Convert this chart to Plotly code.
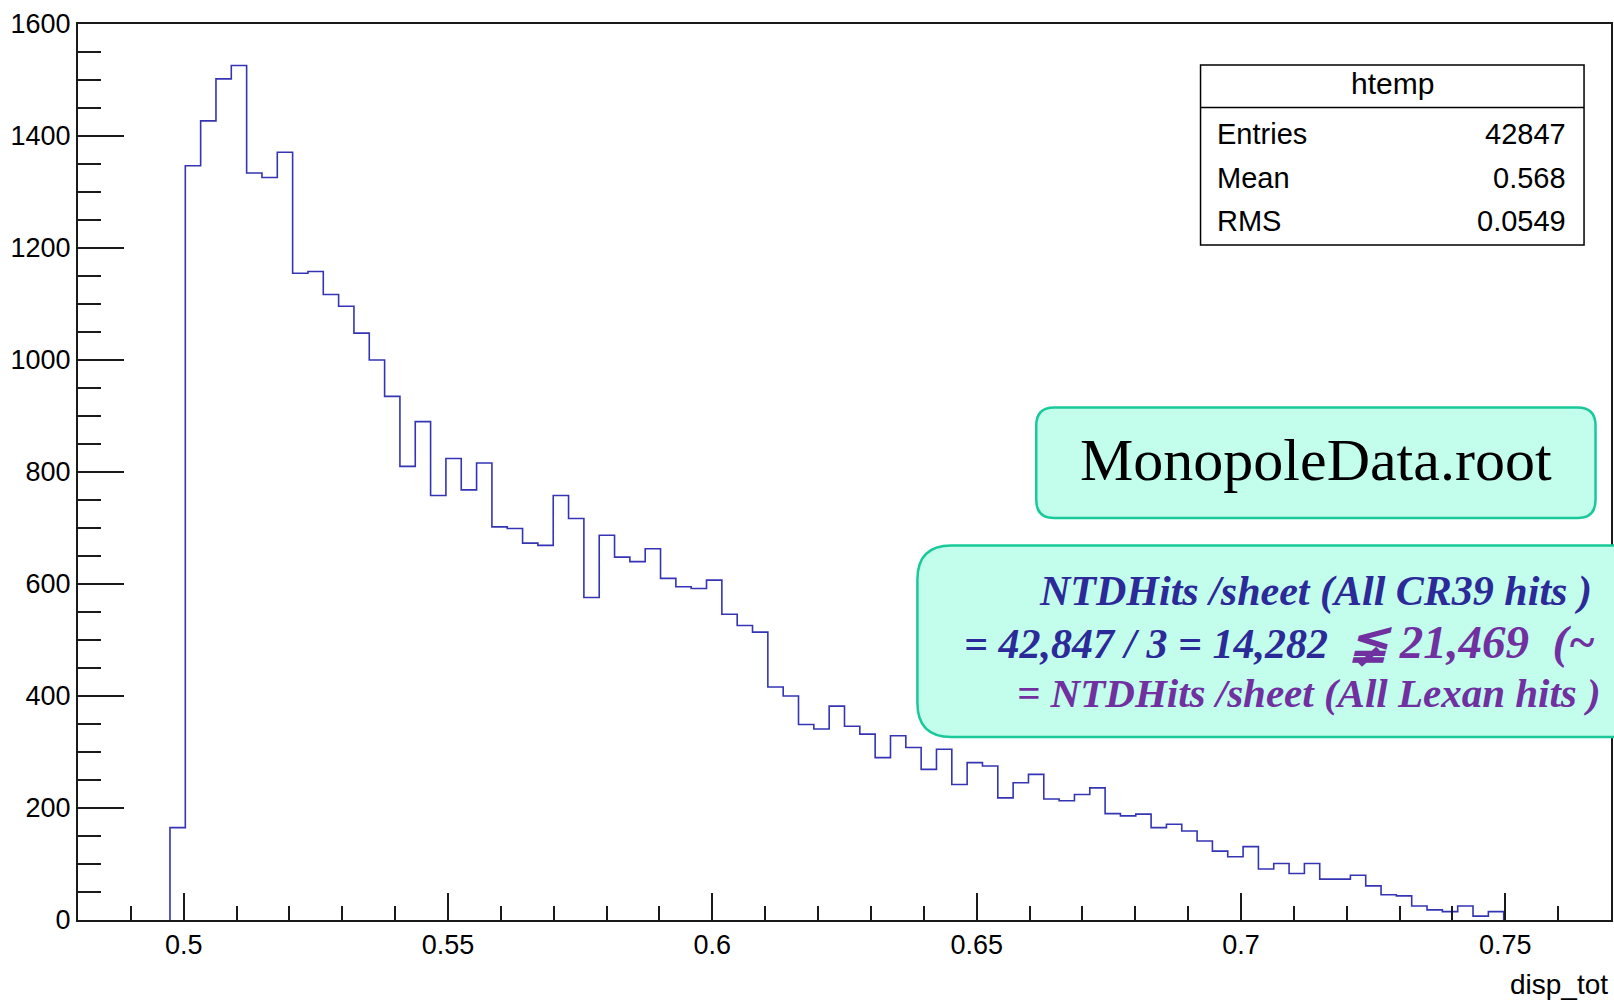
import plotly.graph_objects as go

# ---- histogram definition: disp_tot, 100 bins between 0.48 and 0.77 ----
x_min, x_max, n_bins = 0.48, 0.77, 100
counts = (
    [0, 0, 0, 0, 0, 0]
    + [165, 1347, 1427, 1502, 1526, 1334, 1326, 1371, 1155, 1158,
       1117, 1096, 1048, 1000, 935, 810, 890, 758, 824, 768,
       816, 702, 699, 673, 669, 758, 717, 576, 687, 648,
       640, 663, 610, 595, 592, 607, 546, 526, 514, 416,
       400, 349, 341, 382, 346, 332, 290, 329, 308, 269,
       305, 242, 281, 275, 218, 245, 260, 216, 213, 224,
       236, 190, 186, 189, 165, 171, 159, 141, 123, 113,
       131, 91, 101, 83, 101, 73, 73, 80, 61, 45,
       43, 25, 18, 15, 25, 7, 15]
    + [0, 0, 0, 0, 0, 0, 0]
)

x_tick_vals = [0.5, 0.55, 0.6, 0.65, 0.7, 0.75]
x_tick_text = ["0.5", "0.55", "0.6", "0.65", "0.7", "0.75"]
y_tick_vals = [0, 200, 400, 600, 800, 1000, 1200, 1400, 1600]
y_tick_text = [str(v) for v in y_tick_vals]

stats_title = "htemp"
stats_labels = ["Entries", "Mean", "RMS"]
stats_values = ["42847", "0.568", "0.0549"]
stats_rows_y = [134, 177.5, 221]

file_label = "MonopoleData.root"
x_title = "disp_tot"

# ---- canvas geometry (pixels) ----
W, H = 1614, 1001
ML, MR, MT, MB = 78, 1, 24, 81
PW, PH = W - ML - MR, H - MT - MB

def px(x):
    return (x - ML) / PW

def py(y):
    return (H - MB - y) / PH

SANS = "Liberation Sans, Arial, Helvetica, sans-serif"
SERIF = "Liberation Serif, Times New Roman, DejaVu Serif, serif"
NAVY = "#2b2a98"
PURPLE = "#7030a0"
MINT = "#c3fdec"
TEAL = "#19c99a"
AXIS = "#1a1a1a"

# ---- step outline of the histogram (only the populated range is traced) ----
bw = (x_max - x_min) / n_bins
edges = [x_min + i * bw for i in range(n_bins + 1)]
nz = [i for i, c in enumerate(counts) if c > 0]
first, last = nz[0], nz[-1]
xs = [edges[first]] + edges[first:last + 1] + [edges[last + 1], edges[last + 1]]
ys = [0] + counts[first:last + 1] + [counts[last], 0]

fig = go.Figure()
fig.add_trace(go.Scatter(
    x=xs, y=ys, mode="lines", line=dict(shape="hv", color="#3434b4", width=1.6),
    hoverinfo="skip", showlegend=False,
))

def rounded_rect(x0, y0, x1, y1, r):
    """SVG path (paper coords) for a rounded rectangle given in pixels."""
    rx, ry = r / PW, r / PH
    a0, a1, b0, b1 = px(x0), px(x1), py(y0), py(y1)
    return (f"M {a0+rx},{b0} L {a1-rx},{b0} Q {a1},{b0} {a1},{b0-ry} "
            f"L {a1},{b1+ry} Q {a1},{b1} {a1-rx},{b1} "
            f"L {a0+rx},{b1} Q {a0},{b1} {a0},{b1+ry} "
            f"L {a0},{b0-ry} Q {a0},{b0} {a0+rx},{b0} Z")

shapes = [
    # statistics box
    dict(type="rect", xref="paper", yref="paper", x0=px(1202), x1=px(1586), y0=py(65), y1=py(245),
         fillcolor="white", line=dict(color="black", width=1.5), layer="above"),
    dict(type="line", xref="paper", yref="paper", x0=px(1202), x1=px(1586), y0=py(107.5), y1=py(107.5),
         line=dict(color="black", width=1.5), layer="above"),
    # file label box
    dict(type="path", xref="paper", yref="paper", path=rounded_rect(1037.5, 407.5, 1597.5, 518, 18),
         fillcolor=MINT, line=dict(color=TEAL, width=2.5), layer="above"),
    # hit-count note box
    dict(type="path", xref="paper", yref="paper", path=rounded_rect(918.5, 545.5, 1720, 737, 34),
         fillcolor=MINT, line=dict(color=TEAL, width=2.5), layer="above"),
]

annotations = [
    dict(text=stats_title, x=px(1394), y=py(84), xanchor="center", yanchor="middle",
         font=dict(family=SANS, size=30, color="black")),
]
for lab, val, yc in zip(stats_labels, stats_values, stats_rows_y):
    annotations.append(dict(text=lab, x=px(1216), y=py(yc), xanchor="left", yanchor="middle",
                            font=dict(family=SANS, size=29, color="black")))
    annotations.append(dict(text=val, x=px(1570), y=py(yc), xanchor="right", yanchor="middle",
                            font=dict(family=SANS, size=29, color="black")))

annotations += [
    dict(text=file_label, x=px(1318), y=py(460), xanchor="center", yanchor="middle",
         font=dict(family=SERIF, size=60, color="black")),
    dict(text="<b><i>NTDHits /sheet (All CR39 hits )</i></b>", x=px(1038), y=py(591.5),
         xanchor="left", yanchor="middle", font=dict(family=SERIF, size=42, color=NAVY)),
    dict(text=("<b><i>= 42,847 / 3 = 14,282  </i></b>"
               f"<b><i><span style='color:{PURPLE};font-size:47px'>≨ 21,469  (~</span></i></b>"),
         x=px(963), y=py(642), xanchor="left", yanchor="middle",
         font=dict(family=SERIF, size=42, color=NAVY)),
    dict(text="<b><i>= NTDHits /sheet (All Lexan hits )</i></b>", x=px(1016), y=py(692.5),
         xanchor="left", yanchor="middle", font=dict(family=SERIF, size=41, color=PURPLE)),
    dict(text=x_title, x=px(1612), y=py(984), xanchor="right", yanchor="middle",
         font=dict(family=SANS, size=28, color="black")),
]
for a in annotations:
    a.setdefault("xref", "paper")
    a.setdefault("yref", "paper")
    a["showarrow"] = False

axis_common = dict(
    showgrid=False, zeroline=False, showline=True, mirror=True,
    linecolor=AXIS, linewidth=2, ticks="inside", tickcolor=AXIS, tickwidth=1.5,
    tickfont=dict(family=SANS, size=27, color="black"),
)

fig.update_layout(
    width=W, height=H,
    margin=dict(l=ML, r=MR, t=MT, b=MB, pad=0),
    paper_bgcolor="white", plot_bgcolor="white",
    xaxis=dict(range=[x_min, x_max], tickmode="array", tickvals=x_tick_vals, ticktext=x_tick_text,
               ticklen=27,
               minor=dict(ticks="inside", ticklen=14, tick0=x_min, dtick=0.01,
                          tickcolor=AXIS, tickwidth=1.5, showgrid=False),
               **axis_common),
    yaxis=dict(range=[0, 1600], tickmode="array", tickvals=y_tick_vals, ticktext=y_tick_text,
               ticklen=46,
               minor=dict(ticks="inside", ticklen=23, tick0=0, dtick=50,
                          tickcolor=AXIS, tickwidth=1.5, showgrid=False),
               **axis_common),
    shapes=shapes,
    annotations=annotations,
)

fig.write_html("out.html")
